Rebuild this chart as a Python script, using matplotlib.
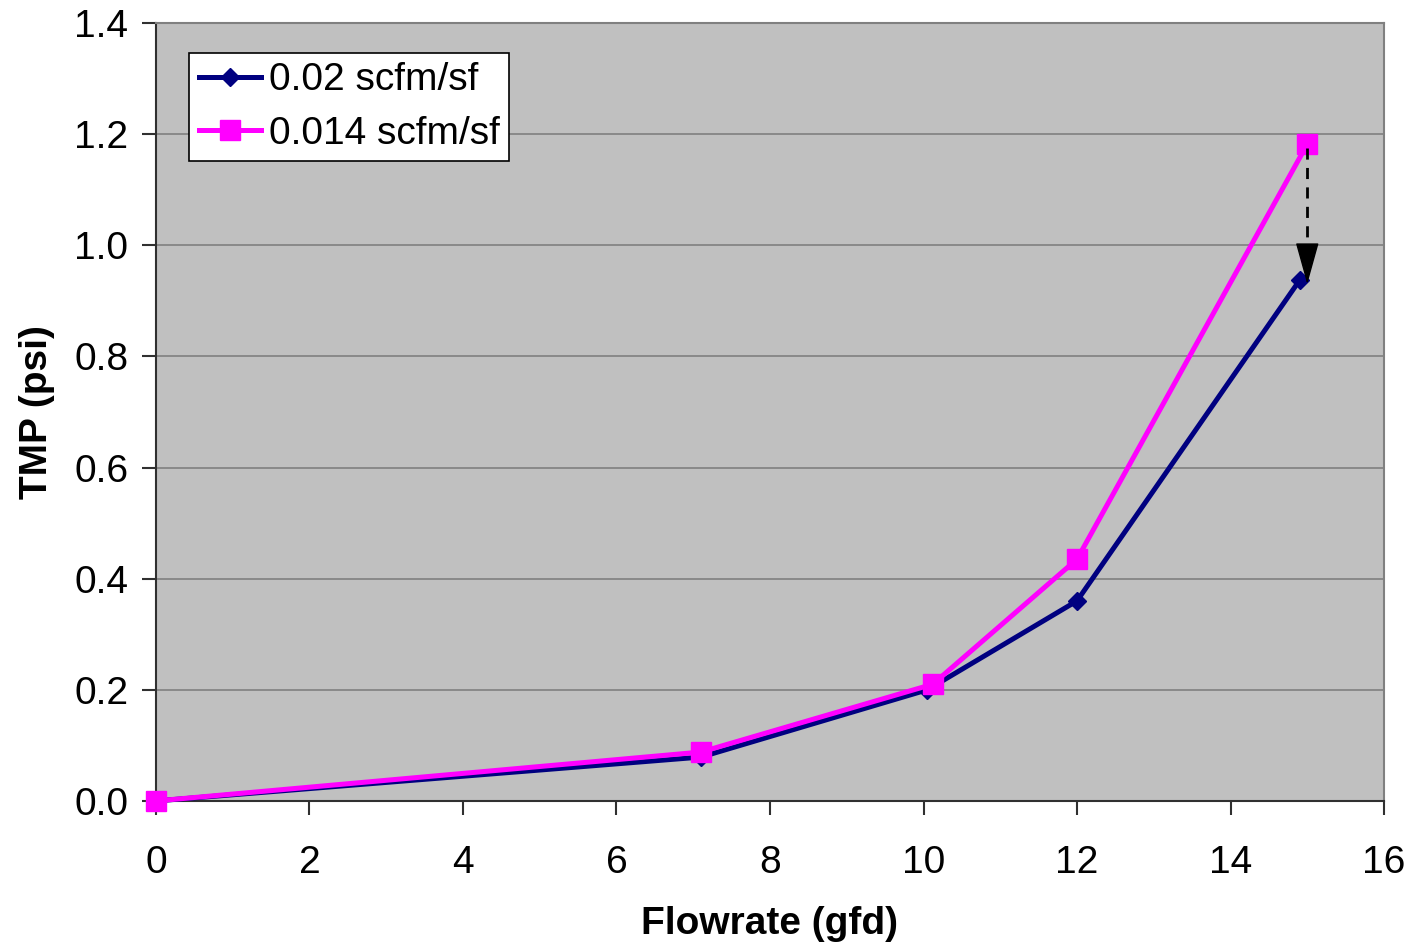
import matplotlib.pyplot as plt

plt.rcParams['font.family'] = ['Liberation Sans', 'DejaVu Sans']

# Flowrate (gfd) vs TMP (psi) at two air scour rates
flow_hi = [0, 7.1, 10.05, 12.0, 14.9]
tmp_hi = [0, 0.079, 0.20, 0.36, 0.937]

flow_lo = [0, 7.1, 10.12, 12.0, 15.0]
tmp_lo = [0, 0.088, 0.21, 0.435, 1.182]

label_hi = "0.02 scfm/sf"
label_lo = "0.014 scfm/sf"

fig = plt.figure(figsize=(14.14, 9.49), dpi=100)
ax = fig.add_axes([0.1103, 0.156, 0.8685, 0.8198])
ax.set_facecolor("#C0C0C0")

ax.plot(flow_hi, tmp_hi, color="#000080", lw=3.6, marker="D", ms=9,
        label=label_hi, zorder=3, clip_on=False)
ax.plot(flow_lo, tmp_lo, color="#FF00FF", lw=3.6, marker="s", ms=15,
        label=label_lo, zorder=4, clip_on=False)

# dashed arrow showing the TMP drop at the highest flux
ax.plot([15.0, 15.0], [1.175, 0.975], color="black", lw=2,
        linestyle=(0, (4, 3)), zorder=5)
ax.annotate("", xy=(15.0, 0.93), xytext=(15.0, 0.98),
            arrowprops=dict(arrowstyle="-|>,head_length=0.9,head_width=0.25",
                            color="black", lw=1, mutation_scale=30,
                            shrinkA=0, shrinkB=0),
            zorder=5)

ax.set_xlim(0, 16)
ax.set_ylim(0, 1.4)
ax.set_xticks(range(0, 17, 2))
ax.set_yticks([i * 0.2 for i in range(8)])
ax.set_yticklabels([f"{i * 0.2:.1f}" for i in range(8)])
ax.grid(axis="y", color="#808080", lw=1.2)
ax.set_axisbelow(True)

for side in ["top", "right"]:
    ax.spines[side].set_color("#808080")
    ax.spines[side].set_linewidth(1.5)
for side in ["left", "bottom"]:
    ax.spines[side].set_color("#303030")
    ax.spines[side].set_linewidth(1.5)
ax.tick_params(labelsize=28, length=10, width=1.5, color="#303030", pad=10)
ax.tick_params(axis="x", pad=22)

ax.set_xlabel("Flowrate (gfd)", fontsize=28, fontweight="bold", labelpad=18)
ax.set_ylabel("TMP (psi)", fontsize=28, fontweight="bold", labelpad=14)

leg = ax.legend(loc="upper left", bbox_to_anchor=(0.027, 0.962), fontsize=28,
                frameon=True, fancybox=False, framealpha=1, edgecolor="black",
                handlelength=1.6, handletextpad=0.2, borderpad=0.25,
                labelspacing=0.45, borderaxespad=0)
leg.get_frame().set_linewidth(1.2)

fig.savefig("out.png", dpi=100)
